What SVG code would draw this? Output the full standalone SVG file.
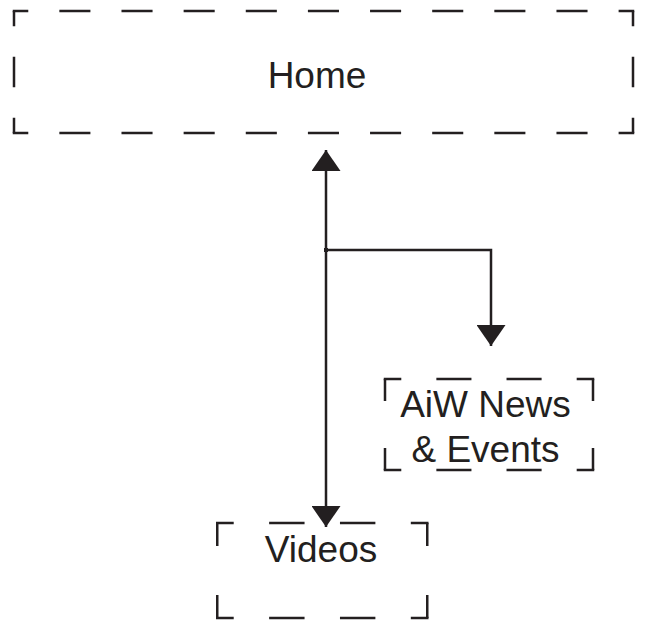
<svg xmlns="http://www.w3.org/2000/svg" width="645" height="629" viewBox="0 0 645 629">
  <style>
    .b { stroke: #231f20; stroke-width: 2.5; fill: none; stroke-linecap: butt; }
    .t { font-family: "Liberation Sans", Arial, sans-serif; font-size: 37px; fill: #231f20; text-anchor: middle; }
    .c { stroke: #231f20; stroke-width: 2.5; fill: none; }
  </style>
  <defs>
    <marker id="arr" viewBox="0 0 21 29" refX="21" refY="14.5" markerWidth="21" markerHeight="29" markerUnits="userSpaceOnUse" orient="auto-start-reverse">
      <path d="M0,0 L21,14.5 L0,29 Z" fill="#231f20"/>
    </marker>
  </defs>
  <rect width="645" height="629" fill="#ffffff"/>

  <g id="home">
    <line class="b" x1="12.75" y1="11" x2="634.25" y2="11" stroke-dasharray="31.07 31.07" stroke-dashoffset="15.54"/>
    <line class="b" x1="12.75" y1="133" x2="634.25" y2="133" stroke-dasharray="31.07 31.07" stroke-dashoffset="15.54"/>
    <line class="b" x1="14" y1="11" x2="14" y2="133" stroke-dasharray="30.5 30.5" stroke-dashoffset="15.25"/>
    <line class="b" x1="633" y1="11" x2="633" y2="133" stroke-dasharray="30.5 30.5" stroke-dashoffset="15.25"/>
    <text class="t" x="317" y="88">Home</text>
  </g>

  <g id="news">
    <line class="b" x1="383.75" y1="379" x2="594.25" y2="379" stroke-dasharray="35.08 35.08" stroke-dashoffset="17.54"/>
    <line class="b" x1="383.75" y1="470" x2="594.25" y2="470" stroke-dasharray="35.08 35.08" stroke-dashoffset="17.54"/>
    <line class="b" x1="385" y1="379" x2="385" y2="470" stroke-dasharray="44 47" stroke-dashoffset="22"/>
    <line class="b" x1="593" y1="379" x2="593" y2="470" stroke-dasharray="44 47" stroke-dashoffset="22"/>
    <text class="t" x="485.5" y="417">AiW News</text>
    <text class="t" x="485.5" y="462">&amp; Events</text>
  </g>

  <g id="videos">
    <line class="b" x1="216" y1="523" x2="428.5" y2="523" stroke-dasharray="35.42 35.42" stroke-dashoffset="17.71"/>
    <line class="b" x1="216" y1="618" x2="428.5" y2="618" stroke-dasharray="35.42 35.42" stroke-dashoffset="17.71"/>
    <line class="b" x1="217.25" y1="523" x2="217.25" y2="618" stroke-dasharray="46 49" stroke-dashoffset="23"/>
    <line class="b" x1="427.25" y1="523" x2="427.25" y2="618" stroke-dasharray="46 49" stroke-dashoffset="23"/>
    <text class="t" x="321" y="562">Videos</text>
  </g>

  <g id="connectors">
    <path class="c" d="M326,150 V527" marker-start="url(#arr)" marker-end="url(#arr)"/>
    <path class="c" d="M326,250 H491 V346" marker-end="url(#arr)"/>
    <rect x="324" y="248" width="4" height="4" fill="#231f20"/>
  </g>
</svg>
